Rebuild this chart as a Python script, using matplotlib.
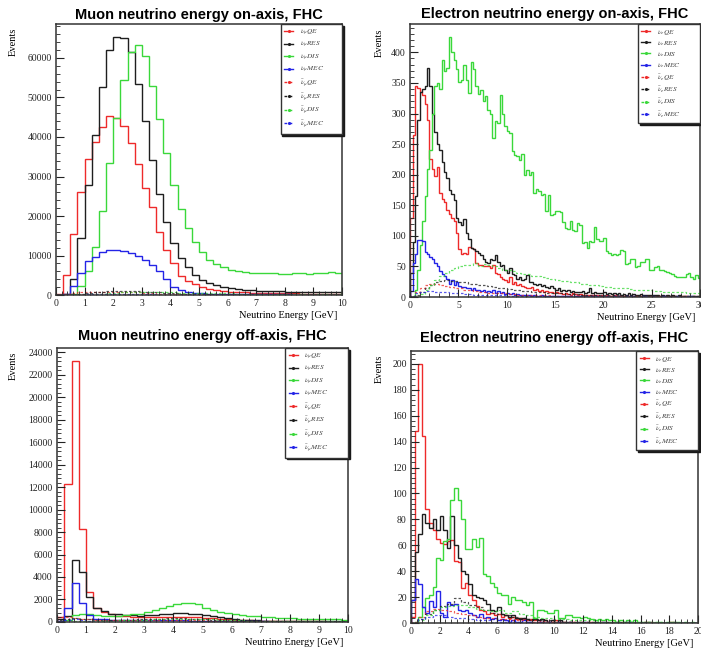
import numpy as np
import matplotlib
matplotlib.use('Agg')
import matplotlib.pyplot as plt
from matplotlib.lines import Line2D
from matplotlib.ticker import MultipleLocator, AutoMinorLocator

# ---- data (events per bin) ----
# muon neutrino, on-axis, 0.25 GeV bins from 0 to 10 GeV
numu_on_qe = [300, 5200, 15400, 26200, 34500, 38700, 42600, 45300, 44700, 42800,
              38400, 33100, 27100, 22200, 15900, 11300, 8000, 4900, 3600, 2700,
              2000, 1600, 1300, 1100, 900, 800, 700, 650, 600, 550,
              500, 500, 450, 450, 400, 400, 400, 350, 350, 350]
numu_on_res = [0, 200, 4000, 14400, 27800, 40500, 52700, 62000, 65300, 65000,
               61600, 53500, 44000, 34200, 25700, 18500, 13200, 9500, 7000, 5000,
               3900, 3100, 2500, 2000, 1700, 1500, 1300, 1200, 1100, 1050,
               1000, 950, 900, 900, 850, 850, 800, 800, 800, 800]
numu_on_dis = [0, 0, 300, 2300, 6200, 12200, 21300, 33400, 44800, 54500,
               61500, 63300, 60600, 53000, 44500, 36000, 27900, 21900, 16900, 13500,
               10800, 9000, 7800, 7000, 6400, 6000, 5800, 5700, 5600, 5500,
               5500, 5400, 5400, 5500, 5500, 5400, 5600, 5600, 5800, 5600]
numu_on_mec = [0, 300, 2300, 5700, 8600, 9700, 10900, 11400, 11500, 11200,
               10700, 9900, 8800, 7700, 6000, 4100, 2100, 1200, 800, 600,
               500, 400, 400, 350, 300, 300, 300, 250, 250, 200,
               200, 200, 200, 150, 150, 150, 150, 150, 150, 150]
numubar_on_qe = [0, 200, 500, 700, 800, 850, 900, 900, 850, 800,
                 750, 700, 600, 500, 400, 300, 250, 200, 150, 120,
                 100, 90, 80, 70, 60, 50, 50, 40, 40, 40,
                 30, 30, 30, 30, 20, 20, 20, 20, 20, 20]
numubar_on_res = [0, 0, 100, 300, 500, 700, 850, 950, 1000, 1000,
                  1000, 950, 900, 800, 700, 600, 500, 400, 300, 250,
                  200, 170, 150, 130, 110, 100, 90, 80, 80, 70,
                  70, 60, 60, 60, 50, 50, 50, 50, 50, 50]
numubar_on_dis = [0, 0, 0, 50, 150, 250, 400, 500, 600, 700,
                  750, 800, 800, 800, 780, 750, 700, 650, 600, 550,
                  500, 480, 460, 440, 420, 400, 400, 390, 380, 380,
                  370, 370, 360, 360, 360, 350, 350, 350, 350, 350]
numubar_on_mec = [0, 20, 80, 150, 200, 230, 250, 260, 260, 250,
                  240, 220, 200, 170, 140, 110, 80, 50, 30, 20,
                  15, 10, 10, 10, 8, 8, 6, 6, 5, 5,
                  5, 5, 4, 4, 4, 4, 3, 3, 3, 3]

# electron neutrino, on-axis, 0.25 GeV bins from 0 to 30 GeV (antineutrinos in 0.5 GeV bins)
nue_on_qe = [130, 265, 345, 342, 335, 330, 315, 290, 225, 210,
             198, 213, 170, 160, 155, 142, 136, 130, 125, 104,
             78, 70, 72, 70, 82, 80, 78, 55, 52, 52,
             50, 51, 50, 48, 53, 40, 38, 32, 30, 28,
             25, 32, 22, 25, 20, 22, 18, 16, 15, 14,
             16, 12, 13, 10, 12, 9, 10, 8, 9, 7,
             8, 6, 7, 5, 6, 5, 4, 6, 5, 4,
             5, 4, 3, 4, 3, 4, 3, 3, 2, 3,
             2, 3, 2, 2, 3, 2, 2, 1, 2, 2,
             1, 2, 1, 1, 2, 1, 1, 1, 2, 1,
             1, 1, 1, 0, 1, 1, 1, 0, 1, 1,
             0, 1, 0, 1, 1, 0, 0, 1, 0, 1]
nue_on_res = [40, 90, 165, 290, 335, 340, 345, 374, 345, 300,
              270, 250, 240, 220, 205, 195, 175, 168, 158, 130,
              123, 118, 128, 105, 95, 80, 78, 75, 72, 68,
              62, 58, 55, 62, 60, 68, 58, 50, 52, 45,
              40, 48, 38, 36, 30, 32, 28, 30, 36, 25,
              24, 22, 20, 22, 18, 20, 17, 15, 18, 14,
              12, 14, 10, 12, 10, 11, 9, 10, 8, 9,
              8, 10, 7, 8, 14, 7, 8, 6, 7, 6,
              9, 5, 6, 5, 7, 5, 6, 4, 5, 4,
              6, 4, 5, 3, 4, 5, 3, 4, 3, 4,
              3, 4, 3, 2, 3, 2, 3, 2, 3, 2,
              2, 3, 2, 2, 1, 2, 2, 1, 2, 1]
nue_on_dis = [0, 2, 12, 45, 85, 125, 165, 210, 240, 300,
              345, 350, 340, 388, 370, 375, 425, 400, 388, 372,
              352, 355, 380, 355, 333, 385, 372, 345, 332, 338,
              320, 328, 305, 300, 260, 287, 285, 330, 300, 280,
              272, 268, 238, 232, 230, 224, 234, 199, 208, 200,
              205, 170, 176, 173, 166, 168, 140, 166, 134, 136,
              141, 140, 139, 122, 113, 111, 124, 110, 108, 121,
              117, 88, 90, 80, 92, 90, 114, 95, 92, 91,
              97, 76, 72, 69, 70, 68, 70, 77, 75, 54,
              55, 63, 62, 49, 50, 57, 58, 63, 62, 44,
              45, 49, 50, 44, 45, 42, 41, 40, 38, 34,
              33, 32, 33, 32, 38, 39, 32, 30, 36, 31]
nue_on_mec = [10, 55, 70, 93, 93, 92, 73, 70, 65, 62,
              55, 50, 42, 37, 34, 30, 22, 28, 20, 24,
              18, 16, 17, 14, 15, 12, 14, 11, 12, 10,
              11, 9, 10, 8, 12, 7, 10, 6, 8, 5,
              6, 5, 6, 4, 5, 4, 3, 4, 3, 3,
              2, 3, 2, 2, 3, 2, 1, 2, 2, 1,
              2, 1, 1, 1, 2, 1, 1, 0, 1, 1,
              1, 0, 1, 1, 0, 1, 0, 1, 0, 1,
              0, 1, 0, 0, 1, 0, 1, 0, 0, 1,
              0, 0, 1, 0, 0, 0, 1, 0, 0, 0,
              1, 0, 0, 0, 0, 1, 0, 0, 0, 0,
              1, 0, 0, 0, 0, 0, 1, 0, 0, 0]
nuebar_on_qe = [2, 8, 14, 19, 22, 21, 19, 18, 16, 15,
                14, 12, 11, 10, 9, 8, 7, 7, 6, 6,
                5, 5, 4, 4, 4, 3, 3, 3, 3, 2,
                2, 2, 2, 2, 1, 2, 1, 1, 1, 1,
                1, 1, 1, 1, 1, 0, 1, 1, 0, 1,
                0, 1, 0, 1, 0, 0, 1, 0, 0, 0]
nuebar_on_res = [0, 3, 8, 14, 20, 24, 27, 28, 27, 26,
                 25, 24, 22, 21, 20, 19, 18, 16, 15, 14,
                 13, 12, 11, 10, 10, 9, 8, 8, 7, 7,
                 6, 6, 5, 5, 5, 4, 4, 4, 4, 3,
                 3, 3, 3, 3, 2, 2, 2, 2, 2, 2,
                 2, 1, 2, 1, 1, 1, 1, 1, 1, 1]
nuebar_on_dis = [0, 1, 5, 12, 20, 28, 35, 40, 45, 48,
                 50, 52, 53, 55, 50, 54, 52, 50, 47, 45,
                 44, 42, 40, 38, 37, 35, 34, 32, 31, 30,
                 28, 27, 26, 25, 24, 22, 21, 20, 19, 18,
                 17, 16, 15, 15, 14, 13, 12, 12, 11, 11,
                 10, 10, 9, 9, 8, 8, 8, 7, 7, 7]
nuebar_on_mec = [1, 6, 9, 10, 10, 9, 9, 8, 7, 7,
                 6, 5, 5, 4, 4, 4, 3, 3, 3, 3,
                 2, 2, 2, 2, 2, 2, 1, 1, 1, 1,
                 1, 1, 1, 1, 1, 1, 0, 1, 1, 0,
                 1, 0, 1, 0, 0, 1, 0, 0, 1, 0,
                 0, 0, 1, 0, 0, 0, 0, 1, 0, 0]

# muon neutrino, off-axis, 0.25 GeV bins from 0 to 10 GeV
numu_off_qe = [400, 12300, 23200, 8300, 2700, 1200, 900, 700, 550, 500,
               450, 420, 400, 400, 420, 430, 450, 470, 450, 420,
               380, 330, 280, 240, 200, 170, 150, 130, 110, 100,
               90, 80, 70, 60, 60, 50, 50, 40, 40, 40]
numu_off_res = [300, 500, 5500, 4400, 2200, 1200, 1000, 750, 680, 600,
                580, 560, 580, 620, 680, 720, 800, 780, 750, 700,
                620, 520, 420, 320, 250, 200, 170, 150, 130, 110,
                100, 90, 80, 75, 70, 60, 60, 55, 50, 50]
numu_off_dis = [0, 200, 600, 750, 700, 620, 560, 540, 560, 600,
                680, 740, 890, 1040, 1270, 1420, 1570, 1650, 1700, 1620,
                1250, 1050, 900, 800, 700, 620, 560, 500, 460, 420,
                380, 350, 320, 300, 280, 260, 250, 240, 230, 220]
numu_off_mec = [50, 1250, 3500, 1700, 600, 300, 250, 200, 180, 160,
                150, 150, 150, 150, 150, 150, 150, 140, 130, 120,
                110, 100, 90, 80, 70, 60, 55, 50, 45, 40,
                35, 30, 30, 25, 25, 20, 20, 20, 15, 15]
numubar_off_qe = [450, 400, 350, 300, 250, 200, 180, 160, 150, 150,
                  150, 150, 150, 160, 170, 180, 180, 180, 170, 160,
                  150, 130, 110, 100, 90, 80, 70, 60, 50, 45,
                  40, 35, 30, 30, 25, 25, 20, 20, 20, 20]
numubar_off_res = [200, 300, 350, 300, 250, 220, 200, 200, 200, 210,
                   220, 240, 260, 280, 300, 310, 320, 310, 300, 280,
                   250, 220, 190, 160, 130, 110, 90, 80, 70, 60,
                   50, 45, 40, 35, 30, 30, 25, 25, 20, 20]
numubar_off_dis = [0, 30, 80, 120, 130, 130, 130, 130, 140, 150,
                   170, 190, 210, 230, 250, 270, 280, 290, 290, 280,
                   260, 230, 200, 180, 160, 140, 130, 120, 110, 100,
                   95, 90, 85, 80, 75, 70, 70, 65, 60, 60]
numubar_off_mec = [20, 150, 300, 200, 80, 40, 30, 25, 25, 25,
                   25, 25, 25, 25, 25, 25, 20, 20, 20, 18,
                   16, 14, 12, 10, 9, 8, 7, 6, 5, 5,
                   4, 4, 3, 3, 3, 3, 2, 2, 2, 2]

# electron neutrino, off-axis, 0.25 GeV bins from 0 to 20 GeV (antineutrinos in 0.5 GeV bins)
nue_off_qe = [5, 148, 200, 144, 88, 77, 72, 65, 62, 61,
              63, 64, 48, 47, 27, 31, 22, 18, 13, 10,
              9, 7, 8, 6, 7, 5, 6, 4, 5, 3,
              4, 3, 2, 3, 2, 2, 1, 2, 1, 1,
              2, 1, 1, 0, 1, 1, 0, 1, 0, 1,
              1, 0, 0, 1, 0, 0, 1, 0, 0, 0,
              1, 0, 0, 0, 0, 1, 0, 0, 0, 0,
              0, 0, 1, 0, 0, 0, 0, 0, 0, 0]
nue_off_res = [18, 55, 69, 84, 77, 73, 80, 72, 83, 72,
               58, 83, 60, 50, 40, 38, 30, 22, 20, 19,
               18, 15, 10, 9, 12, 7, 6, 5, 6, 4,
               3, 4, 3, 2, 3, 2, 3, 2, 1, 2,
               1, 2, 1, 1, 1, 0, 1, 1, 0, 1,
               0, 1, 0, 0, 1, 0, 0, 1, 0, 0,
               0, 1, 0, 0, 0, 0, 1, 0, 0, 0,
               0, 0, 0, 1, 0, 0, 0, 0, 0, 0]
nue_off_dis = [0, 1, 5, 12, 19, 22, 28, 50, 49, 63,
               65, 95, 104, 95, 80, 57, 57, 65, 59, 66,
               38, 36, 31, 28, 23, 22, 22, 15, 20, 18,
               18, 16, 14, 16, 4, 10, 10, 9, 8, 8,
               10, 4, 4, 6, 6, 5, 5, 4, 5, 4,
               3, 2, 3, 2, 3, 2, 2, 1, 2, 1,
               2, 1, 2, 1, 1, 1, 1, 0, 1, 1,
               0, 1, 1, 0, 1, 0, 1, 0, 1, 0]
nue_off_mec = [18, 34, 30, 12, 8, 17, 12, 25, 8, 5,
               16, 14, 15, 10, 9, 10, 8, 6, 5, 7,
               4, 5, 3, 4, 2, 3, 2, 1, 2, 1,
               1, 2, 1, 1, 0, 1, 1, 0, 1, 0,
               0, 1, 0, 0, 1, 0, 0, 0, 1, 0,
               0, 0, 0, 1, 0, 0, 0, 0, 0, 0,
               1, 0, 0, 0, 0, 0, 0, 0, 0, 0,
               0, 0, 0, 0, 0, 0, 0, 0, 0, 0]
nuebar_off_qe = [1, 5, 9, 11, 10, 9, 8, 7, 6, 5,
                 4, 4, 3, 3, 2, 2, 2, 1, 1, 1,
                 1, 1, 1, 0, 1, 0, 1, 0, 0, 1,
                 0, 0, 0, 1, 0, 0, 0, 0, 0, 0]
nuebar_off_res = [0, 3, 7, 10, 13, 15, 19, 16, 14, 12,
                  10, 8, 7, 6, 5, 4, 3, 3, 2, 2,
                  2, 1, 1, 1, 1, 1, 0, 1, 0, 1,
                  0, 0, 1, 0, 0, 0, 0, 0, 0, 0]
nuebar_off_dis = [0, 2, 6, 10, 12, 13, 14, 14, 12, 11,
                  10, 9, 10, 8, 9, 7, 6, 5, 4, 4,
                  3, 3, 2, 2, 2, 2, 1, 1, 1, 1,
                  1, 1, 0, 1, 1, 0, 1, 0, 0, 0]
nuebar_off_mec = [0, 3, 5, 6, 6, 5, 4, 4, 3, 2,
                  2, 1, 1, 1, 1, 0, 1, 0, 0, 0,
                  0, 0, 0, 0, 0, 0, 0, 0, 0, 0,
                  0, 0, 0, 0, 0, 0, 0, 0, 0, 0]

MODES = ['QE', 'RES', 'DIS', 'MEC']
COLORS = ['#ee2a2a', '#1e1e1e', '#3ad83a', '#2424e6']
DASH = (0, (2, 1.6))

plt.rcParams['font.family'] = 'Liberation Serif'
plt.rcParams['mathtext.fontset'] = 'stix'


def draw_panel(ax, title, pad, solid, width, dashed, bar_width, flav, xmax, xstep, ystep, ylab_x):
    # neutrinos solid, antineutrinos dashed, ROOT-like step histograms
    for values, c in zip(solid, COLORS):
        edges = np.arange(len(values) + 1) * width
        ax.stairs(values, edges, color=c, lw=1.0, baseline=0)
    for values, c in zip(dashed, COLORS):
        edges = np.arange(len(values) + 1) * bar_width
        ax.stairs(values, edges, color=c, lw=0.9, ls=DASH, baseline=0, alpha=0.75)

    ymax = 1.05 * max(max(v) for v in solid)
    ax.set_xlim(0, xmax)
    ax.set_ylim(0, ymax)

    ax.set_title(title, family='Liberation Sans', fontweight='bold', fontsize=10.5, pad=pad)
    ax.set_xlabel('Neutrino Energy [GeV]', loc='right', fontsize=7.5)
    ax.xaxis.set_label_coords(0.985, -0.058)
    ax.set_ylabel('Events', loc='top', fontsize=7.5)
    ax.yaxis.set_label_coords(ylab_x, 0.985)

    # ticks inside, left and bottom only
    ax.xaxis.set_major_locator(MultipleLocator(xstep))
    ax.yaxis.set_major_locator(MultipleLocator(ystep))
    ax.xaxis.set_minor_locator(AutoMinorLocator(5))
    ax.yaxis.set_minor_locator(AutoMinorLocator(5))
    ax.tick_params(which='both', direction='in', top=False, right=False,
                   labelsize=7, colors='#222222', pad=3)
    ax.tick_params(which='major', length=6, width=0.8)
    ax.tick_params(which='minor', length=3, width=0.6)
    for s in ax.spines.values():
        s.set_color('#333333')
        s.set_linewidth(1.1)

    # legend box
    handles = []
    labels = []
    for c, m in zip(COLORS, MODES):
        handles.append(Line2D([], [], color=c, lw=1.0, marker='.', markersize=2.5))
        labels.append(r'$\nu_{%s}%s$' % (flav, m))
    for c, m in zip(COLORS, MODES):
        handles.append(Line2D([], [], color=c, lw=1.0, ls=DASH, marker='.', markersize=2.5))
        labels.append(r'$\bar{\nu}_{%s}%s$' % (flav, m))
    leg = ax.legend(handles, labels, loc='upper right', bbox_to_anchor=(0.785, 0.5, 0.215, 0.5),
                    mode='expand', borderaxespad=0, fontsize=5.3, frameon=True, fancybox=False,
                    edgecolor='#333333', framealpha=1, handlelength=1.2,
                    handletextpad=0.9, labelspacing=0.3, borderpad=0.5,
                    shadow={'ox': 1.4, 'oy': -1.4, 'shade': 0.9, 'alpha': 1})
    for t in leg.get_texts():
        t.set_color('#444444')


fig = plt.figure(figsize=(7.01, 6.5), dpi=100)

ax1 = fig.add_axes([0.0799, 0.546, 0.408, 0.417])
ax2 = fig.add_axes([0.585, 0.543, 0.4137, 0.420])
ax3 = fig.add_axes([0.0813, 0.0431, 0.415, 0.4215])
ax4 = fig.add_axes([0.5863, 0.0415, 0.4094, 0.4185])

draw_panel(ax1, 'Muon neutrino energy on-axis, FHC', 3.5,
           [numu_on_qe, numu_on_res, numu_on_dis, numu_on_mec], 0.25,
           [numubar_on_qe, numubar_on_res, numubar_on_dis, numubar_on_mec], 0.25,
           r'\mu', 10, 1, 10000, -0.135)
draw_panel(ax2, 'Electron neutrino energy on-axis, FHC', 4.3,
           [nue_on_qe, nue_on_res, nue_on_dis, nue_on_mec], 0.25,
           [nuebar_on_qe, nuebar_on_res, nuebar_on_dis, nuebar_on_mec], 0.5,
           'e', 30, 5, 50, -0.092)
draw_panel(ax3, 'Muon neutrino energy off-axis, FHC', 5.5,
           [numu_off_qe, numu_off_res, numu_off_dis, numu_off_mec], 0.25,
           [numubar_off_qe, numubar_off_res, numubar_off_dis, numubar_off_mec], 0.25,
           r'\mu', 10, 1, 2000, -0.135)
draw_panel(ax4, 'Electron neutrino energy off-axis, FHC', 6.5,
           [nue_off_qe, nue_off_res, nue_off_dis, nue_off_mec], 0.25,
           [nuebar_off_qe, nuebar_off_res, nuebar_off_dis, nuebar_off_mec], 0.5,
           'e', 20, 2, 20, -0.094)

fig.savefig('out.png', dpi=100)
